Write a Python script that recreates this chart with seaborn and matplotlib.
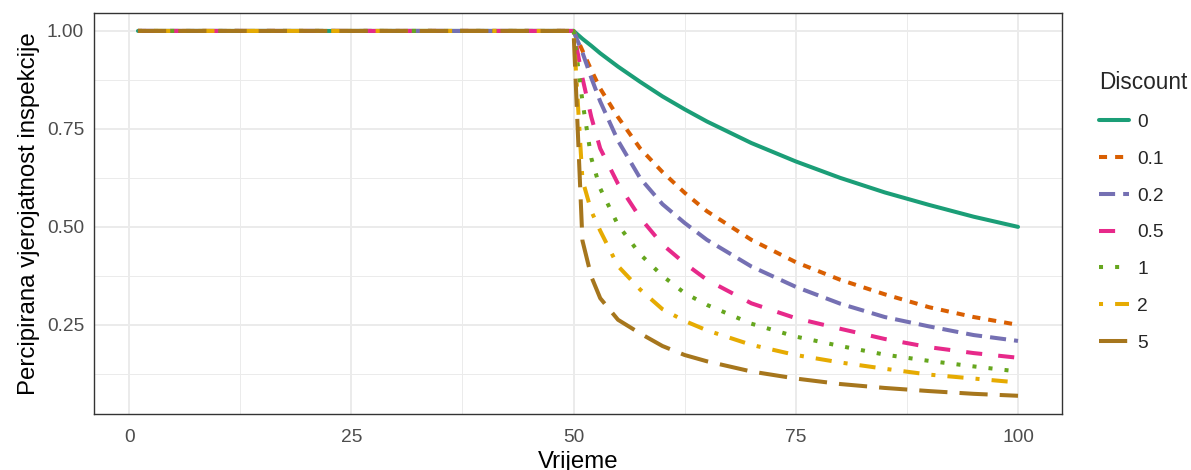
import matplotlib
matplotlib.use("Agg")
import matplotlib.pyplot as plt
from matplotlib.ticker import MultipleLocator, FixedLocator
import pandas as pd
import seaborn as sns

# ── podaci (očitano s grafa) ─────────────────────────────────────────────────

vrijeme = [1, 50, 51, 52, 53, 55, 57.5, 60, 62.5, 65, 70, 75, 80, 85, 90, 95, 100]

p_d0  = [1, 1, 0.980, 0.962, 0.943, 0.909, 0.870, 0.833, 0.800, 0.769, 0.714, 0.667, 0.625, 0.588, 0.556, 0.526, 0.500]
p_d01 = [1, 1, 0.950, 0.900, 0.853, 0.780, 0.700, 0.640, 0.587, 0.540, 0.467, 0.410, 0.365, 0.328, 0.295, 0.270, 0.250]
p_d02 = [1, 1, 0.945, 0.880, 0.820, 0.720, 0.624, 0.558, 0.510, 0.467, 0.399, 0.347, 0.304, 0.270, 0.246, 0.224, 0.209]
p_d05 = [1, 1, 0.880, 0.780, 0.700, 0.610, 0.523, 0.455, 0.407, 0.365, 0.305, 0.267, 0.240, 0.214, 0.193, 0.178, 0.166]
p_d1  = [1, 1, 0.820, 0.675, 0.598, 0.505, 0.430, 0.375, 0.331, 0.301, 0.253, 0.220, 0.196, 0.174, 0.158, 0.144, 0.131]
p_d2  = [1, 1, 0.620, 0.540, 0.490, 0.400, 0.340, 0.290, 0.260, 0.236, 0.199, 0.173, 0.154, 0.138, 0.123, 0.113, 0.103]
p_d5  = [1, 1, 0.465, 0.373, 0.318, 0.263, 0.228, 0.196, 0.173, 0.157, 0.131, 0.113, 0.099, 0.089, 0.081, 0.074, 0.069]

discount_levels = ["0", "0.1", "0.2", "0.5", "1", "2", "5"]
series = [p_d0, p_d01, p_d02, p_d05, p_d1, p_d2, p_d5]

x_ticks = [0, 25, 50, 75, 100]
y_ticks = [0.25, 0.50, 0.75, 1.00]
y_ticklabels = ["0.25", "0.50", "0.75", "1.00"]

# ── stil (Dark2 + ggplot linetype redoslijed) ────────────────────────────────

colors = ["#1B9E77", "#D95F02", "#7570B3", "#E7298A", "#66A61E", "#E6AB02", "#A6761D"]
dash_patterns = ["", (2, 2), (4, 2), (4, 4), (1, 3), (1, 3, 4, 3), (7, 3)]

df = pd.concat(
    [pd.DataFrame({"Vrijeme": vrijeme, "p": vals, "Discount": lvl})
     for lvl, vals in zip(discount_levels, series)],
    ignore_index=True,
)

sns.set_theme(style="white")
plt.rcParams["font.family"] = ["Liberation Sans", "DejaVu Sans"]

fig, ax = plt.subplots(figsize=(11.91, 4.70), dpi=100)
fig.subplots_adjust(left=0.0789, right=0.8917, bottom=0.1191, top=0.973)

sns.lineplot(
    data=df, x="Vrijeme", y="p",
    hue="Discount", style="Discount",
    hue_order=discount_levels, style_order=discount_levels,
    palette=dict(zip(discount_levels, colors)),
    dashes=dict(zip(discount_levels, dash_patterns)),
    estimator=None, linewidth=2.9, ax=ax,
)

# osi i mreža (theme_bw)
ax.xaxis.set_major_locator(FixedLocator(x_ticks))
ax.xaxis.set_minor_locator(MultipleLocator(12.5))
ax.set_yticks(y_ticks)
ax.set_yticklabels(y_ticklabels)
ax.yaxis.set_minor_locator(MultipleLocator(0.125))
ax.grid(which="major", color="#EBEBEB", linewidth=1.4)
ax.grid(which="minor", color="#EBEBEB", linewidth=0.7)
ax.set_axisbelow(True)
ax.tick_params(which="major", length=3.6, width=1.0, color="#333333",
               labelcolor="#4D4D4D", labelsize=13.8, pad=3.5)
ax.tick_params(axis="x", which="major", pad=7)
ax.tick_params(which="minor", length=0)
for spine in ax.spines.values():
    spine.set_color("#333333")
    spine.set_linewidth(1.0)

ax.set_xlabel("Vrijeme", fontsize=17.3, color="black", labelpad=4)
ax.set_ylabel("Percipirana vjerojatnost inspekcije", fontsize=17.3,
              color="black", labelpad=5)

sns.move_legend(
    ax, "upper left",
    bbox_to_anchor=(1082 / 1191, 1 - 54 / 470), bbox_transform=fig.transFigure,
    frameon=False, title="Discount", alignment="left",
    fontsize=13.8, title_fontsize=16.3,
    handlelength=1.56, handletextpad=0.42, labelspacing=1.01,
)

fig.savefig("out.png", dpi=100)
